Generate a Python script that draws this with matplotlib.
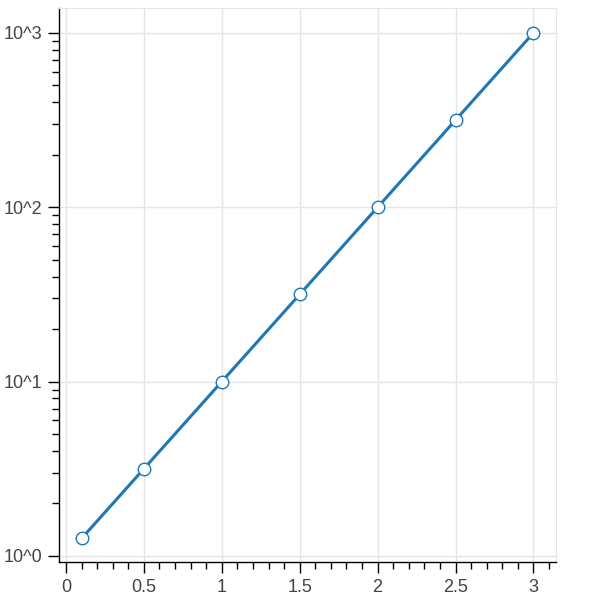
import matplotlib.pyplot as plt
from matplotlib.ticker import FixedLocator, FixedFormatter, LogLocator, MultipleLocator, NullFormatter

# Datos
x = [0.1, 0.5, 1.0, 1.5, 2.0, 2.5, 3.0]
y = [1.2589, 3.1623, 10.0, 31.623, 100.0, 316.23, 1000.0]
x_ticks = [0, 0.5, 1, 1.5, 2, 2.5, 3]
x_tick_labels = ['0', '0.5', '1', '1.5', '2', '2.5', '3']
y_ticks = [1, 10, 100, 1000]
y_tick_labels = ['10^0', '10^1', '10^2', '10^3']

plt.rcParams['font.family'] = ['Liberation Sans', 'DejaVu Sans']

fig = plt.figure(figsize=(6, 6), dpi=100)
ax = fig.add_axes([59 / 600, 1 - 562 / 600, (556 - 59) / 600, (562 - 8) / 600])

ax.plot(x, y, color='#1f77b4', linewidth=2.2, marker='o', markersize=9,
        markerfacecolor='white', markeredgecolor='#1f77b4', markeredgewidth=1, zorder=3)

ax.set_yscale('log')
ax.set_xlim(-0.045, 3.145)
ax.set_ylim(10 ** -0.035, 10 ** 3.143)

ax.xaxis.set_major_locator(FixedLocator(x_ticks))
ax.xaxis.set_major_formatter(FixedFormatter(x_tick_labels))
ax.xaxis.set_minor_locator(MultipleLocator(0.1))
ax.yaxis.set_major_locator(FixedLocator(y_ticks))
ax.yaxis.set_major_formatter(FixedFormatter(y_tick_labels))
ax.yaxis.set_minor_locator(LogLocator(base=10, subs=range(2, 10)))
ax.yaxis.set_minor_formatter(NullFormatter())

ax.grid(True, which='major', color='#e5e5e5', linewidth=1)
ax.set_axisbelow(True)

for s in ['top', 'right']:
    ax.spines[s].set_color('#e5e5e5')
for s in ['left', 'bottom']:
    ax.spines[s].set_color('black')
    ax.spines[s].set_linewidth(1)

ax.tick_params(which='major', direction='out', length=8, width=1, color='black',
               labelsize=13, labelcolor='#444444', pad=4)
ax.tick_params(which='minor', direction='out', length=5, width=1, color='black')

fig.savefig('out.png', dpi=100)
